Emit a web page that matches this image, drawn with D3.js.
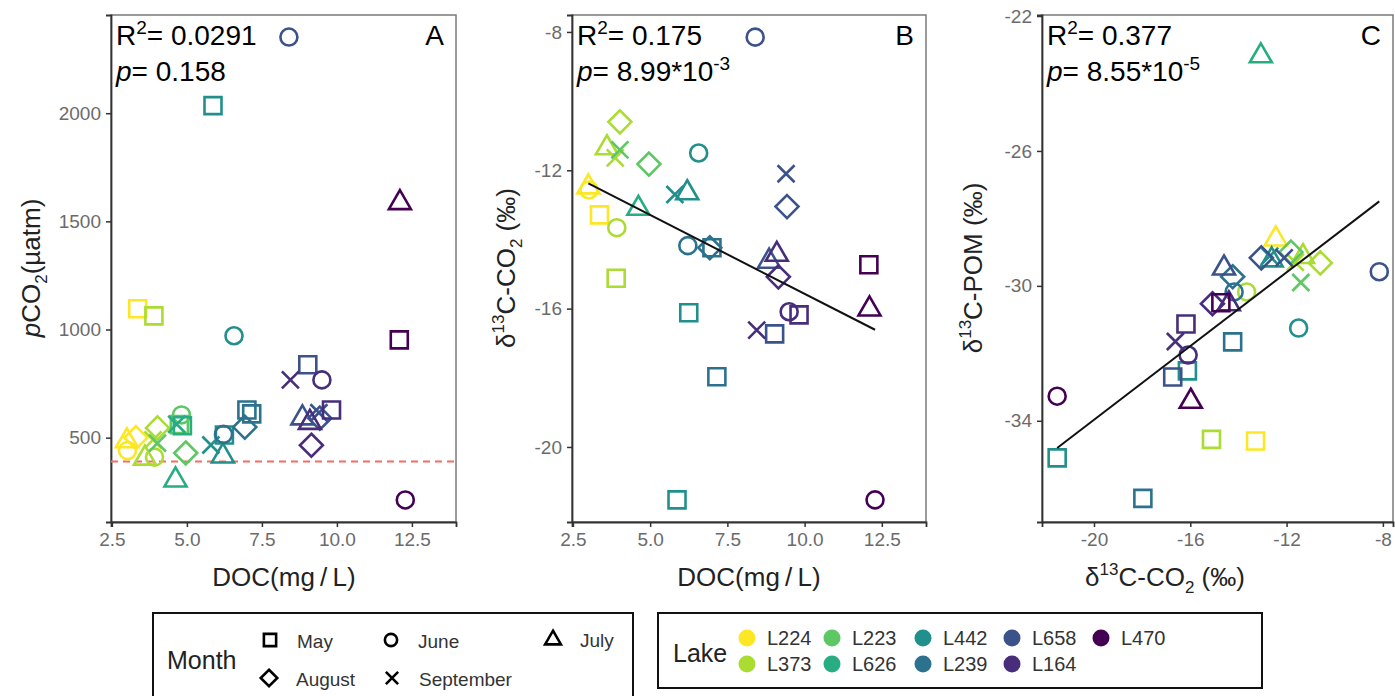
<!DOCTYPE html>
<html>
<head>
<meta charset="utf-8">
<script src="https://cdn.jsdelivr.net/npm/d3@7"></script>
<style>
  body { margin: 0; background: #fff; }
  text { font-family: "Liberation Sans", Arial, sans-serif; }
</style>
</head>
<body>
<script>
// lakes and their viridis colours
var lakes = ["L224", "L373", "L223", "L626", "L442", "L239", "L658", "L164", "L470"];
var lakeColors = ["#FDE725", "#AADC32", "#5DC863", "#27AD81", "#21908C", "#2C728E", "#3B528B", "#472D7B", "#440154"];
var months = ["May", "June", "July", "August", "September"];

// one entry per sample (null = not measured / not shown)
var obsLake  = ["L224","L224","L224","L224", "L373","L373","L373","L373","L373", "L223","L223","L223","L223",
                "L626","L626","L626", "L442","L442","L442","L442","L442", "L239","L239","L239","L239",
                "L658","L658","L658","L658","L658", "L164","L164","L164","L164","L164", "L470","L470","L470"];
var obsMonth = ["May","June","July","August", "May","June","July","August","September", "May","June","August","September",
                "May","July","September", "May","May","June","July","September", "May","May","June","August",
                "May","June","July","August","September", "May","June","July","August","September", "May","June","July"];
var doc      = [3.36, 3.02, 3.0, 3.3,  3.9, 3.92, 3.6, 4.02, 3.87,  4.75, 4.82, 4.96, 4.02,
                4.85, 4.62, 4.66,  5.87, 6.25, 6.57, 6.2, 5.8,  7.0, 7.16, 6.22, 6.93,
                9.03, 8.4, 8.85, 9.43, 9.4,  9.82, 9.5, 9.1, 9.15, 8.45,  12.08, 12.28, 12.1];
var pco2     = [1096, 440, 490, 500,  1063, 410, 410, 545, 490,  560, 605, 429, 475,
                555, 309, 562,  2035, 512, 971, 420, 466,  628, 610, 515, 549,
                837, 2352, 596, 590, 615,  628, 767, 575, 465, 767,  952, 212, 1591];
var d13cCO2  = [-13.29, -12.57, -12.45, null,  -15.12, -13.66, -11.32, -10.6, -11.64,  null, null, -11.82, -11.41,
                null, -13.07, null,  -21.53, -16.12, -11.5, -12.62, -12.7,  -14.24, -17.97, -14.18, -14.24,
                -16.73, -8.15, -14.6, -13.05, -12.1,  -16.18, -16.09, -14.4, -15.08, -16.62,  -14.73, -21.53, -15.98];
var d13cPOM  = [-34.6, null, -28.58, null,  -34.55, -30.18, -29.1, -29.32, -29.3,  null, null, -29.0, -29.9,
                null, -23.15, null,  -35.1, -32.52, -31.25, -29.2, -29.12,  -31.66, -36.3, -30.18, -29.73,
                -32.7, -29.58, -29.44, -29.17, -29.17,  -31.13, -32.05, -30.5, -30.53, -31.65,  -30.5, -33.27, -33.39];

var atmPco2 = 390;
var docTicks = [2.5, 5, 7.5, 10, 12.5];
var pco2Ticks = [500, 1000, 1500, 2000];
var co2Ticks = [-20, -16, -12, -8];
var pomTicks = [-34, -30, -26, -22];
var panelTags = ["A", "B", "C"];
var r2Text = ["0.0291", "0.175", "0.377"];
var pText = ["0.158", "8.99*10", "8.55*10"];
var pExp = [null, "-3", "-5"];

var width = 1395, height = 696;
var svg = d3.select("body").append("svg")
    .attr("width", width)
    .attr("height", height);

var color = d3.scaleOrdinal().domain(lakes).range(lakeColors);

var rows = obsLake.map(function(l, i) {
    return {lake: l, month: obsMonth[i], doc: doc[i], pco2: pco2[i], co2: d13cCO2[i], pom: d13cPOM[i]};
});

function shapePath(m) {
    if (m == "May") return "M-8.5,-8.5H8.5V8.5H-8.5Z";
    if (m == "June") return "M8.5,0A8.5,8.5 0 1,1 -8.5,0A8.5,8.5 0 1,1 8.5,0Z";
    if (m == "July") return "M0,-11.5L11,7.5H-11Z";
    if (m == "August") return "M0,-11.5L11.5,0L0,11.5L-11.5,0Z";
    return "M-8.5,-8.5L8.5,8.5M8.5,-8.5L-8.5,8.5";
}

function linFit(pts) {
    var mx = d3.mean(pts, function(d) { return d[0]; });
    var my = d3.mean(pts, function(d) { return d[1]; });
    var sxy = d3.sum(pts, function(d) { return (d[0] - mx) * (d[1] - my); });
    var sxx = d3.sum(pts, function(d) { return (d[0] - mx) * (d[0] - mx); });
    var b = sxy / sxx;
    return {slope: b, icpt: my - b * mx};
}

var plain = function(d) { return String(d); };
var panels = [
    {left: 111, right: 456, xKey: "doc", yKey: "pco2", xDom: [2.47, 13.97], yDom: [110, 2454],
     xTicks: docTicks, yTicks: pco2Ticks, xFmt: d3.format(".1f"), fit: false},
    {left: 572, right: 926, xKey: "doc", yKey: "co2", xDom: [2.47, 13.93], yDom: [-22.17, -7.51],
     xTicks: docTicks, yTicks: co2Ticks, xFmt: d3.format(".1f"), fit: true},
    {left: 1042, right: 1393, xKey: "co2", yKey: "pom", xDom: [-22.16, -7.58], yDom: [-37.0, -21.97],
     xTicks: co2Ticks, yTicks: pomTicks, xFmt: plain, fit: true}
];
var plotTop = 15, plotBottom = 522;

panels.forEach(function(p, k) {
    var x = d3.scaleLinear().domain(p.xDom).range([p.left, p.right]);
    var y = d3.scaleLinear().domain(p.yDom).range([plotBottom, plotTop]);
    var g = svg.append("g");

    g.append("rect")
        .attr("x", p.left).attr("y", plotTop)
        .attr("width", p.right - p.left).attr("height", plotBottom - plotTop)
        .attr("fill", "none").attr("stroke", "#7a7a7a").attr("stroke-width", 1.5);

    var xa = g.append("g").attr("transform", "translate(0," + plotBottom + ")")
        .call(d3.axisBottom(x).tickValues(p.xTicks).tickFormat(p.xFmt).tickSize(5).tickPadding(6));
    var ya = g.append("g").attr("transform", "translate(" + p.left + ",0)")
        .call(d3.axisLeft(y).tickValues(p.yTicks).tickFormat(plain).tickSize(5).tickPadding(5));
    [xa, ya].forEach(function(a) {
        a.select(".domain").attr("stroke", "#333").attr("stroke-width", 1.8);
        a.selectAll(".tick line").attr("stroke", "#333").attr("stroke-width", 1.5);
        a.selectAll(".tick text").attr("fill", "#6b6b6b").style("font-size", "19px")
            .style("font-family", "'Liberation Sans', Arial, sans-serif");
    });

    if (k == 0) {
        g.append("line")
            .attr("x1", p.left).attr("x2", p.right)
            .attr("y1", y(atmPco2)).attr("y2", y(atmPco2))
            .attr("stroke", "#FA6A5E").attr("stroke-width", 2)
            .attr("stroke-dasharray", "7,5");
    }

    var pts = rows.filter(function(d) { return d[p.xKey] != null && d[p.yKey] != null; });

    g.selectAll("path.pt")
        .data(pts)
        .enter()
        .append("path")
        .attr("class", "pt")
        .attr("d", function(d) { return shapePath(d.month); })
        .attr("transform", function(d) { return "translate(" + x(d[p.xKey]) + "," + y(d[p.yKey]) + ")"; })
        .attr("fill", "none")
        .attr("stroke", function(d) { return color(d.lake); })
        .attr("stroke-width", 2.6);

    if (p.fit) {
        var xy = pts.map(function(d) { return [d[p.xKey], d[p.yKey]]; });
        var f = linFit(xy);
        var ext = d3.extent(xy, function(d) { return d[0]; });
        g.append("line")
            .attr("x1", x(ext[0])).attr("y1", y(f.icpt + f.slope * ext[0]))
            .attr("x2", x(ext[1])).attr("y2", y(f.icpt + f.slope * ext[1]))
            .attr("stroke", "#111").attr("stroke-width", 2);
    }

    // statistics text
    var t1 = g.append("text").attr("x", p.left + 5).attr("y", 45).style("font-size", "28px").attr("fill", "#000");
    t1.append("tspan").text("R");
    t1.append("tspan").attr("dy", -11).style("font-size", "19px").text("2");
    t1.append("tspan").attr("dy", 11).text("= " + r2Text[k]);
    var t2 = g.append("text").attr("x", p.left + 5).attr("y", 81).style("font-size", "28px").attr("fill", "#000");
    t2.append("tspan").style("font-style", "italic").text("p");
    t2.append("tspan").text("= " + pText[k]);
    if (pExp[k]) t2.append("tspan").attr("dy", -11).style("font-size", "19px").text(pExp[k]);

    g.append("text").attr("x", p.right - 12).attr("y", 45).attr("text-anchor", "end")
        .style("font-size", "28px").text(panelTags[k]);
});

// axis titles
function sub(t, s) {
    t.append("tspan").attr("dy", 7).style("font-size", "17px").text(s);
}
svg.append("text").attr("x", 284).attr("y", 586).attr("text-anchor", "middle")
    .style("font-size", "26px").attr("fill", "#222").text("DOC(mg\u2009/\u2009L)");
svg.append("text").attr("x", 749).attr("y", 586).attr("text-anchor", "middle")
    .style("font-size", "26px").attr("fill", "#222").text("DOC(mg\u2009/\u2009L)");

var xt3 = svg.append("text").attr("x", 1165).attr("y", 586).attr("text-anchor", "middle")
    .style("font-size", "26px").attr("fill", "#222");
xt3.append("tspan").text("δ");
xt3.append("tspan").attr("dy", -11).style("font-size", "17px").text("13");
xt3.append("tspan").attr("dy", 11).text("C-CO");
sub(xt3, "2");
xt3.append("tspan").attr("dy", -7).text(" (‰)");

var yt1 = svg.append("text").attr("transform", "translate(40,268) rotate(-90)").attr("text-anchor", "middle")
    .style("font-size", "26px").attr("fill", "#222");
yt1.append("tspan").style("font-style", "italic").text("p");
yt1.append("tspan").text("CO");
sub(yt1, "2");
yt1.append("tspan").attr("dy", -7).text("(µatm)");

[[515, "C-CO", "2"], [982, "C-POM", null]].forEach(function(a) {
    var t = svg.append("text").attr("transform", "translate(" + a[0] + ",268) rotate(-90)").attr("text-anchor", "middle")
        .style("font-size", "26px").attr("fill", "#222");
    t.append("tspan").text("δ");
    t.append("tspan").attr("dy", -11).style("font-size", "17px").text("13");
    t.append("tspan").attr("dy", 11).text(a[1]);
    if (a[2]) { sub(t, a[2]); t.append("tspan").attr("dy", -7).text(" (‰)"); }
    else t.append("tspan").text(" (‰)");
});

// Month legend
var lg1 = svg.append("g");
lg1.append("rect").attr("x", 153).attr("y", 613).attr("width", 480).attr("height", 100)
    .attr("fill", "none").attr("stroke", "#111").attr("stroke-width", 2);
lg1.append("text").attr("x", 167).attr("y", 669).style("font-size", "25px").attr("fill", "#222").text("Month");
var monthPos = [[270, 640], [391, 640], [553, 639], [269, 678], [392, 678]];
months.forEach(function(m, i) {
    lg1.append("path").attr("d", shapePath(m))
        .attr("transform", "translate(" + monthPos[i][0] + "," + monthPos[i][1] + ") scale(0.72)")
        .attr("fill", "none").attr("stroke", "#000").attr("stroke-width", 3.6);
    lg1.append("text").attr("x", monthPos[i][0] + 27).attr("y", monthPos[i][1] + 8)
        .style("font-size", "19px").attr("fill", "#333").text(m);
});

// Lake legend
var lg2 = svg.append("g");
lg2.append("rect").attr("x", 658).attr("y", 613).attr("width", 604).attr("height", 75)
    .attr("fill", "none").attr("stroke", "#111").attr("stroke-width", 2);
lg2.append("text").attr("x", 673).attr("y", 662).style("font-size", "25px").attr("fill", "#222").text("Lake");
var colX = [747, 832, 923, 1012, 1101];
lakes.forEach(function(l, i) {
    var cx = colX[Math.floor(i / 2)];
    var cy = i % 2 == 0 ? 638 : 664;
    lg2.append("circle").attr("cx", cx).attr("cy", cy).attr("r", 8.5).attr("fill", color(l));
    lg2.append("text").attr("x", cx + 20).attr("y", cy + 7)
        .style("font-size", "20px").attr("fill", "#333").text(l);
});
</script>
</body>
</html>
